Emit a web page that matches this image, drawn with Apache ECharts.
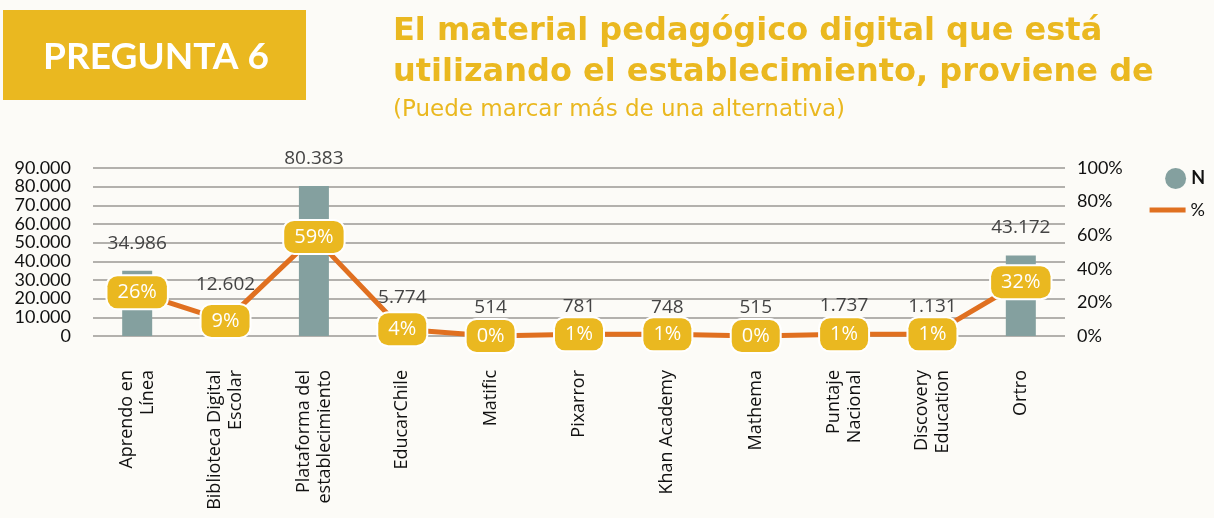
<!DOCTYPE html>
<html>
<head>
<meta charset="utf-8">
<script src="https://cdn.jsdelivr.net/npm/echarts@6/dist/echarts.min.js"></script>
<style>
  html, body { margin: 0; padding: 0; background: #fcfbf7; }
  #chart { width: 1214px; height: 518px; }
</style>
</head>
<body>
<div id="chart"></div>
<script>
// datos
var categorias = ["Aprendo en\nLínea", "Biblioteca Digital\nEscolar", "Plataforma del\nestablecimiento", "EducarChile", "Matific",
                  "Pixarror", "Khan Academy", "Mathema", "Puntaje\nNacional", "Discovery\nEducation", "Ortro"];
var valoresN = [34986, 12602, 80383, 5774, 514, 781, 748, 515, 1737, 1131, 43172];
var valoresPct = [26, 9, 59, 4, 0, 1, 1, 0, 1, 1, 32];
var ticksN = [0, 90000, 10000];
var ticksPct = [0, 100, 20];

var amarillo = "#eab820";
var gris = "#84a09f";
var naranjo = "#e07020";
var fuente = "Lato, 'Open Sans', sans-serif";
var fuenteAncha = "'Open Sans', Lato, sans-serif";
var fuenteTitulo = "'DejaVu Sans', 'Open Sans', sans-serif";

function miles(v) {
    return String(v).replace(/\B(?=(\d{3})+(?!\d))/g, ".");
}

var myChart = echarts.init(document.getElementById('chart'));
myChart.setOption({
    backgroundColor: "#fcfbf7",
    textStyle: { fontFamily: fuente },
    graphic: [
        { type: "rect", left: 3, top: 10, shape: { width: 303, height: 90 }, style: { fill: amarillo } },
        { type: "text", x: 156, y: 57, style: { text: "PREGUNTA 6", fill: "#fff", font: "bold 37px " + fuente,
            align: "center", verticalAlign: "middle" } },
        { type: "text", left: 393, top: 11, style: { text: "El material pedagógico digital que está\nutilizando el establecimiento, proviene de",
            fill: amarillo, font: "bold 32px " + fuenteTitulo, lineHeight: 41 } },
        { type: "text", left: 393, top: 99, style: { text: "(Puede marcar más de una alternativa)", fill: amarillo, font: "23px " + fuenteTitulo } }
    ],
    legend: [
        { data: [{ name: "N", icon: "circle" }], right: 4, top: 163, itemWidth: 21, itemHeight: 21, itemGap: 8,
          textStyle: { fontSize: 18, fontWeight: "bold", color: "#111" } },
        { data: [{ name: "%", icon: "rect" }], right: 4, top: 196, itemWidth: 36, itemHeight: 5, itemGap: 8,
          textStyle: { fontSize: 18, color: "#111" } }
    ],
    grid: { left: 93, right: 149, top: 168, bottom: 182 },
    xAxis: {
        type: "category",
        data: categorias,
        axisLine: { show: false },
        axisTick: { show: false },
        axisLabel: { rotate: 90, margin: 34, fontSize: 18, fontFamily: fuenteAncha, color: "#111", lineHeight: 21, interval: 0 }
    },
    yAxis: [
        {
            type: "value", min: ticksN[0], max: ticksN[1], interval: ticksN[2],
            axisLabel: { fontSize: 18, color: "#111", margin: 22, formatter: miles },
            splitLine: { lineStyle: { color: "#b3b1ad", width: 2 } }
        },
        {
            type: "value", min: ticksPct[0], max: ticksPct[1], interval: ticksPct[2],
            axisLabel: { fontSize: 18, color: "#111", margin: 12, formatter: "{value}%" },
            splitLine: { show: false }
        }
    ],
    series: [
        {
            name: "N", type: "bar", data: valoresN, barWidth: 30, yAxisIndex: 0,
            itemStyle: { color: gris },
            label: { show: true, position: "top", distance: 18, fontSize: 19, fontFamily: fuenteAncha, color: "#444",
                     formatter: function (p) { return miles(p.value); } }
        },
        {
            name: "%", type: "line", data: valoresPct, yAxisIndex: 1,
            symbol: "circle", symbolSize: 2, showSymbol: true,
            lineStyle: { color: naranjo, width: 5 }, itemStyle: { color: naranjo },
            label: { show: true, position: "inside", formatter: "{c}%", fontSize: 20, fontFamily: fuenteAncha, color: "#fff",
                     backgroundColor: amarillo, borderColor: "#fff", borderWidth: 2, borderRadius: 10,
                     padding: [6, 10, 6, 10] },
            z: 5
        }
    ]
});
window.addEventListener("resize", function() {
    myChart.resize();
});
</script>
</body>
</html>
